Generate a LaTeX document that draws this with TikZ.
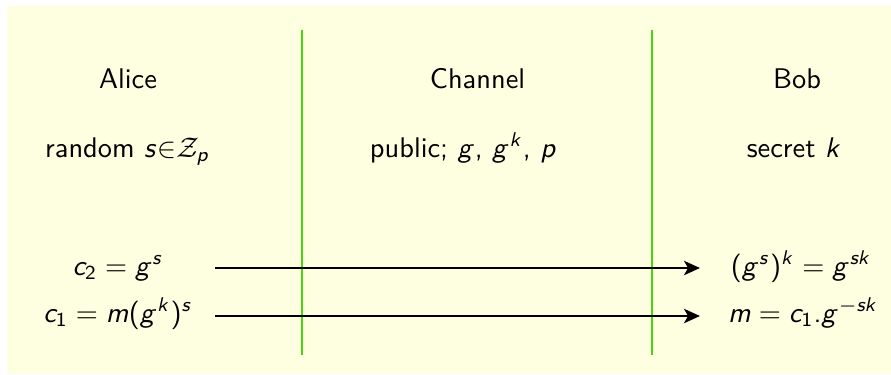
\documentclass[tikz,border=0pt]{standalone}
\usetikzlibrary{arrows.meta}
\DeclareSymbolFont{operators}{OT1}{cmss}{m}{n}
\DeclareSymbolFont{letters}{OT1}{cmss}{m}{sl}
\definecolor{bgyellow}{RGB}{254,254,224}
\definecolor{chgreen}{RGB}{70,215,10}
\tikzset{
  lbl/.style={font=\sffamily, anchor=base, inner sep=0pt},
  sep/.style={draw=chgreen, line width=0.95pt},
  msg/.style={draw=black, line width=1pt, -{Stealth[length=5.6pt,width=5pt,inset=1.4pt]}}
}
\begin{document}
\begin{tikzpicture}[x=0.352pt, y=-0.352pt]
\useasboundingbox (0,0) rectangle (891,374);
\fill[white] (0,0) rectangle (891,374);
\fill[bgyellow] (7,6) rectangle (891,374);
% separators
\coordinate (s1t) at (302,30); \coordinate (s1b) at (302,355);
\coordinate (s2t) at (652,30); \coordinate (s2b) at (652,355);
\draw[sep] (s1t) -- (s1b);
\draw[sep] (s2t) -- (s2b);
% headers
\node[lbl] (alice) at (128,88) {Alice};
\node[lbl] (channel) at (477.5,88) {Channel};
\node[lbl] (bob) at (797,88) {Bob};
\node[lbl] (arand) at (127.5,157) {random $s{\in}\mathcal{Z}_p$};
\node[lbl] (pub) at (463,157) {public; $g$, $g^k$, $p$};
\node[lbl] (sec) at (794,157) {secret $k$};
% messages
\node[lbl] (c2) at (118,275) {$c_2 = g^s$};
\node[lbl] (c1) at (118,322) {$c_1 = m(g^k)^s$};
\node[lbl] (r2) at (801,275) {$(g^s)^k = g^{sk}$};
\node[lbl] (r1) at (803,322) {$m = c_1\textsf{.}g^{-sk}$};
\coordinate (a2s) at (215,268); \coordinate (a2e) at (700,268);
\coordinate (a1s) at (215,316); \coordinate (a1e) at (700,316);
\draw[msg] (a2s) -- (a2e);
\draw[msg] (a1s) -- (a1e);
\end{tikzpicture}
\end{document}
